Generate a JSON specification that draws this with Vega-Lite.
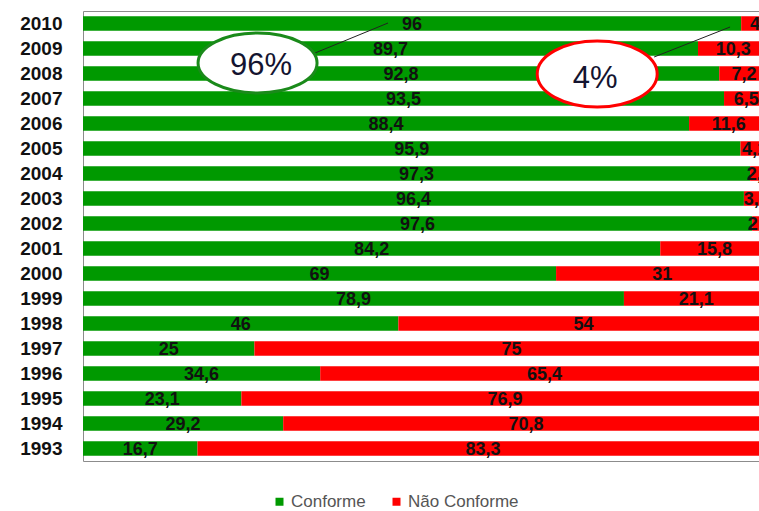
{
  "$schema": "https://vega.github.io/schema/vega-lite/v6.json",
  "width": 676,
  "height": 450,
  "autosize": {"type": "none"},
  "padding": {"left": 83, "top": 11, "right": 0, "bottom": 50},
  "background": "white",
  "config": {
    "view": {"stroke": "#8c8c8c", "strokeWidth": 1},
    "locale": {"number": {"decimal": ",", "thousands": ".", "grouping": [3], "currency": ["", ""]}}
  },
  "datasets": {
    "main": [
      {"ano": "2010", "situacao": "Conforme", "pct": 96}, {"ano": "2010", "situacao": "Não Conforme", "pct": 4},
      {"ano": "2009", "situacao": "Conforme", "pct": 89.7}, {"ano": "2009", "situacao": "Não Conforme", "pct": 10.3},
      {"ano": "2008", "situacao": "Conforme", "pct": 92.8}, {"ano": "2008", "situacao": "Não Conforme", "pct": 7.2},
      {"ano": "2007", "situacao": "Conforme", "pct": 93.5}, {"ano": "2007", "situacao": "Não Conforme", "pct": 6.5},
      {"ano": "2006", "situacao": "Conforme", "pct": 88.4}, {"ano": "2006", "situacao": "Não Conforme", "pct": 11.6},
      {"ano": "2005", "situacao": "Conforme", "pct": 95.9}, {"ano": "2005", "situacao": "Não Conforme", "pct": 4.1},
      {"ano": "2004", "situacao": "Conforme", "pct": 97.3}, {"ano": "2004", "situacao": "Não Conforme", "pct": 2.7},
      {"ano": "2003", "situacao": "Conforme", "pct": 96.4}, {"ano": "2003", "situacao": "Não Conforme", "pct": 3.6},
      {"ano": "2002", "situacao": "Conforme", "pct": 97.6}, {"ano": "2002", "situacao": "Não Conforme", "pct": 2.4},
      {"ano": "2001", "situacao": "Conforme", "pct": 84.2}, {"ano": "2001", "situacao": "Não Conforme", "pct": 15.8},
      {"ano": "2000", "situacao": "Conforme", "pct": 69}, {"ano": "2000", "situacao": "Não Conforme", "pct": 31},
      {"ano": "1999", "situacao": "Conforme", "pct": 78.9}, {"ano": "1999", "situacao": "Não Conforme", "pct": 21.1},
      {"ano": "1998", "situacao": "Conforme", "pct": 46}, {"ano": "1998", "situacao": "Não Conforme", "pct": 54},
      {"ano": "1997", "situacao": "Conforme", "pct": 25}, {"ano": "1997", "situacao": "Não Conforme", "pct": 75},
      {"ano": "1996", "situacao": "Conforme", "pct": 34.6}, {"ano": "1996", "situacao": "Não Conforme", "pct": 65.4},
      {"ano": "1995", "situacao": "Conforme", "pct": 23.1}, {"ano": "1995", "situacao": "Não Conforme", "pct": 76.9},
      {"ano": "1994", "situacao": "Conforme", "pct": 29.2}, {"ano": "1994", "situacao": "Não Conforme", "pct": 70.8},
      {"ano": "1993", "situacao": "Conforme", "pct": 16.7}, {"ano": "1993", "situacao": "Não Conforme", "pct": 83.3}
    ]
  },
  "layer": [
    {
      "data": {"name": "main"},
      "mark": {"type": "bar", "clip": true},
      "encoding": {
        "y": {
          "field": "ano", "type": "ordinal", "sort": null,
          "scale": {"domain": ["2010", "2009", "2008", "2007", "2006", "2005", "2004", "2003", "2002", "2001", "2000", "1999", "1998", "1997", "1996", "1995", "1994", "1993"], "paddingInner": 0.42, "paddingOuter": 0.21},
          "axis": {"title": null, "ticks": false, "domain": false, "labelFont": "Liberation Sans", "labelFontWeight": "bold", "labelFontSize": 19, "labelColor": "#111111", "labelPadding": 21}
        },
        "x": {"field": "pct", "type": "quantitative", "stack": "zero", "scale": {"domain": [0, 98.6], "nice": false}, "axis": null},
        "order": {"field": "situacao", "sort": "ascending"},
        "color": {
          "field": "situacao", "type": "nominal",
          "scale": {"domain": ["Conforme", "Não Conforme"], "range": ["#009900", "#ff0000"]},
          "legend": {"orient": "none", "legendX": 188, "legendY": 482, "direction": "horizontal", "title": null, "symbolType": "square", "symbolSize": 64, "symbolStrokeWidth": 0, "labelFont": "Liberation Sans", "labelFontSize": 17, "labelColor": "#555555", "labelOffset": 3, "columnPadding": 22, "padding": 0, "labelLimit": 300}
        }
      }
    },
    {
      "data": {"name": "main"},
      "mark": {"type": "text", "font": "Liberation Sans", "fontWeight": "bold", "fontSize": 18, "color": "#111111", "dy": 1},
      "encoding": {
        "y": {"field": "ano", "type": "ordinal", "sort": null},
        "x": {"field": "pct", "type": "quantitative", "stack": "zero", "bandPosition": 0.5, "axis": null},
        "detail": {"field": "situacao"},
        "order": {"field": "situacao", "sort": "ascending"},
        "text": {"field": "pct", "type": "quantitative", "format": ".1~f"}
      }
    },
    {
      "data": {"values": [{"x1": 33.84, "ano": "2009", "x2": 44.49, "a2": "2010"}]},
      "mark": {"type": "rule", "color": "#222222", "strokeWidth": 1, "yOffset": 4.5, "y2Offset": -0.5},
      "encoding": {
        "x": {"field": "x1", "type": "quantitative"}, "x2": {"field": "x2"},
        "y": {"field": "ano", "type": "ordinal", "sort": null}, "y2": {"field": "a2"}
      }
    },
    {
      "data": {"values": [{"x1": 83.3, "ano": "2009", "x2": 94.38, "a2": "2010"}]},
      "mark": {"type": "rule", "color": "#222222", "strokeWidth": 1, "yOffset": 8.5, "y2Offset": 3.5},
      "encoding": {
        "x": {"field": "x1", "type": "quantitative"}, "x2": {"field": "x2"},
        "y": {"field": "ano", "type": "ordinal", "sort": null}, "y2": {"field": "a2"}
      }
    },
    {
      "data": {"values": [{"ano": "2008", "x": 25.46}]},
      "mark": {"type": "point", "shape": "M-1,0A1,0.504,0,1,0,1,0A1,0.504,0,1,0,-1,0Z", "size": 14161, "filled": true, "fill": "white", "stroke": "#1a8a1a", "strokeWidth": 3, "opacity": 1, "fillOpacity": 1, "strokeOpacity": 1, "yOffset": -10.5},
      "encoding": {
        "y": {"field": "ano", "type": "ordinal", "sort": null},
        "x": {"field": "x", "type": "quantitative"}
      }
    },
    {
      "data": {"values": [{"ano": "2008", "x": 75.0}]},
      "mark": {"type": "point", "shape": "M-1,0A1,0.55,0,1,0,1,0A1,0.55,0,1,0,-1,0Z", "size": 14400, "filled": true, "fill": "white", "stroke": "#ff0000", "strokeWidth": 3, "opacity": 1, "fillOpacity": 1, "strokeOpacity": 1, "yOffset": 0.5},
      "encoding": {
        "y": {"field": "ano", "type": "ordinal", "sort": null},
        "x": {"field": "x", "type": "quantitative"}
      }
    },
    {
      "data": {"values": [{"ano": "2008", "x": 25.97, "t": "96%"}]},
      "mark": {"type": "text", "font": "Liberation Sans", "fontSize": 31, "color": "#141430", "baseline": "middle", "yOffset": -8},
      "encoding": {
        "y": {"field": "ano", "type": "ordinal", "sort": null},
        "x": {"field": "x", "type": "quantitative"},
        "text": {"field": "t"}
      }
    },
    {
      "data": {"values": [{"ano": "2008", "x": 74.7, "t": "4%"}]},
      "mark": {"type": "text", "font": "Liberation Sans", "fontSize": 31, "color": "#141430", "baseline": "middle", "yOffset": 5.5},
      "encoding": {
        "y": {"field": "ano", "type": "ordinal", "sort": null},
        "x": {"field": "x", "type": "quantitative"},
        "text": {"field": "t"}
      }
    }
  ]
}
